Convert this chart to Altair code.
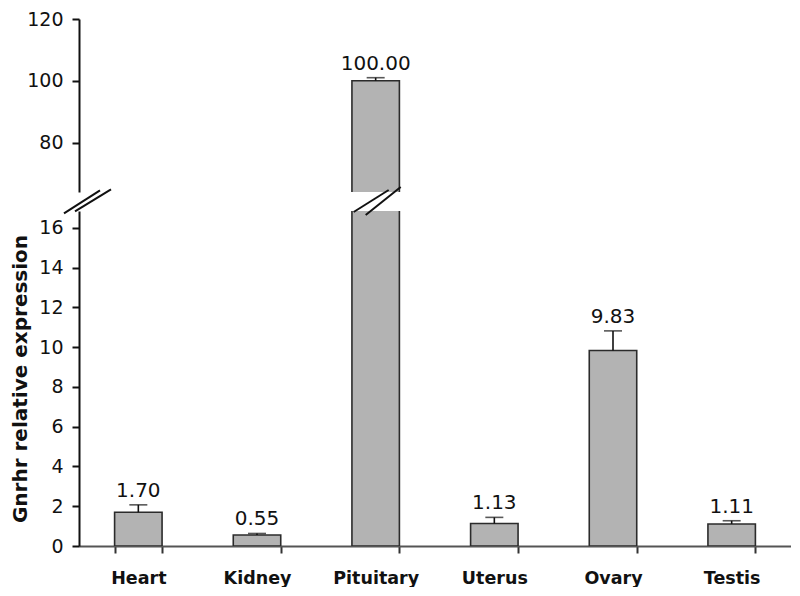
import altair as alt
import pandas as pd

# ---- data ----
tissues = ["Heart", "Kidney", "Pituitary", "Uterus", "Ovary", "Testis"]
means = [1.70, 0.55, 100.00, 1.13, 9.83, 1.11]
errors = [0.37, 0.08, 1.00, 0.31, 0.99, 0.16]
value_labels = ["1.70", "0.55", "100.00", "1.13", "9.83", "1.11"]
lower_ticks = [0, 2, 4, 6, 8, 10, 12, 14, 16]
upper_ticks = [80, 100, 120]

df = pd.DataFrame({"tissue": tissues, "mean": means, "err": errors, "label": value_labels})

# ---- layout constants ----
FONT = "DejaVu Sans"
W = 712
H_UP = 173
H_LOW = 335
GAP = 19
LOW_DOMAIN = [0, 16.85]
UP_DOMAIN = [64, 120]
BAR_FILL = "#b3b3b3"
BAR_STROKE = "#2b2b2b"

xenc = alt.X("tissue:N", sort=tissues,
             scale=alt.Scale(paddingInner=0.6, paddingOuter=0.3))

base = alt.Chart(df).transform_calculate(top="datum.mean + datum.err")


def panel(domain, height, yaxis, xaxis, keep):
    y = alt.Y("mean:Q", scale=alt.Scale(domain=domain, nice=False, zero=False), axis=yaxis)
    x = xenc.axis(xaxis)
    bars = base.mark_bar(clip=True, fill=BAR_FILL, stroke=BAR_STROKE, strokeWidth=1.6).encode(
        x=x, y=y, y2=alt.datum(0))
    sub = base.transform_filter(keep)
    err = sub.mark_rule(color="#111", strokeWidth=1.6).encode(
        x=x, y=alt.Y("mean:Q"), y2="top:Q")
    cap = sub.mark_tick(orient="horizontal", size=18, thickness=1.6, color="#111").encode(
        x=x, y=alt.Y("top:Q"))
    txt = sub.mark_text(baseline="alphabetic", dy=-8, font=FONT, fontSize=20, color="#111").encode(
        x=x, y=alt.Y("top:Q"), text="label:N")
    return alt.layer(bars, err, cap, txt).properties(width=W, height=height)


yaxis_common = dict(grid=False, domainColor="#111", domainWidth=2, tickColor="#111",
                    tickWidth=2, tickSize=7, labelFont=FONT, labelFontSize=19,
                    labelColor="#111", labelPadding=9)

upper = panel(UP_DOMAIN, H_UP,
              alt.Axis(values=upper_ticks, title=None, **yaxis_common),
              None, "datum.mean > 60")

lower_core = panel(
    LOW_DOMAIN, H_LOW,
    alt.Axis(values=lower_ticks, title="Gnrhr relative expression", titleFont=FONT,
             titleFontSize=20, titleFontWeight="bold", titleColor="#111", titlePadding=8,
             **yaxis_common),
    alt.Axis(title=None, labelAngle=0, tickBand="extent", domainColor="#555", domainWidth=2,
             tickColor="#333", tickWidth=2, tickSize=7, labelFont=FONT, labelFontSize=17.5,
             labelFontWeight="bold", labelColor="#111", labelPadding=16, grid=False),
    "datum.mean < 60")

# ---- break marks (decoration) in lower-panel pixel space ----
step = W / len(tissues)
pit_c = step * (tissues.index("Pituitary") + 0.5)
breaks = pd.DataFrame({
    "x": [-15, -4, pit_c - 22, pit_c - 10],
    "y": [2.3, 0.3, 1.0, 4.0],
    "x2": [21, 32, pit_c + 13, pit_c + 25],
    "y2": [-20.7, -21.7, -21.0, -24.0],
})
break_layers = []
for _, r in breaks.iterrows():
    break_layers.append(
        alt.Chart(pd.DataFrame({"k": [0]})).mark_rule(color="#111", strokeWidth=2).encode(
            x=alt.value(float(r.x)), x2=alt.value(float(r.x2)),
            y=alt.value(float(r.y)), y2=alt.value(float(r.y2))))

lower = alt.layer(lower_core, *break_layers).properties(width=W, height=H_LOW)

chart = alt.vconcat(upper, lower, spacing=GAP, bounds="flush").properties(
    padding={"top": 2, "left": 2, "right": 0, "bottom": 0}
).configure_view(stroke=None).configure_axis(grid=False)

chart.save("out.html", embed_options={"renderer": "svg", "actions": False})
